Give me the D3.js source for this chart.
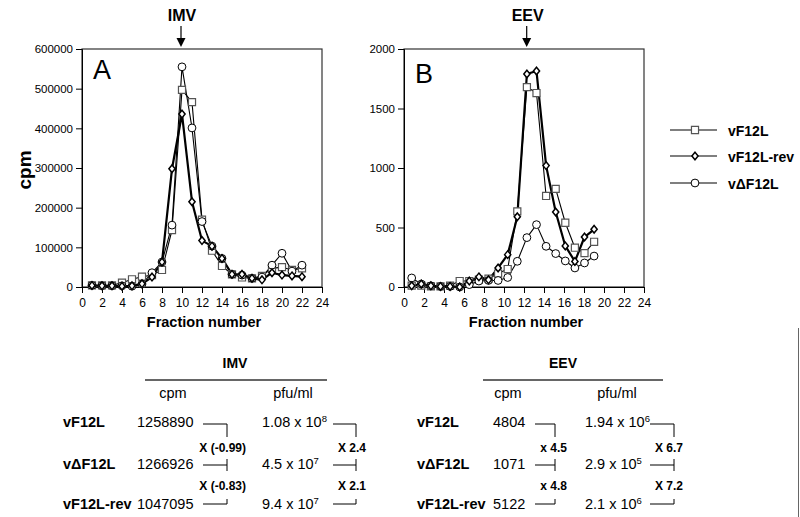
<!DOCTYPE html>
<html>
<head>
<meta charset="utf-8">
<script src="https://cdn.jsdelivr.net/npm/d3@7/dist/d3.min.js"></script>
<style>
body { margin: 0; background: #fff; }
svg { font-family: "Liberation Sans", Arial, Helvetica, sans-serif; }
</style>
</head>
<body>
<div id="chart"></div>
<script>
// ---- gradient data ----
var fractionsA = [1, 2, 3, 4, 5, 6, 7, 8, 9, 10, 11, 12, 13, 14, 15, 16, 17, 18, 19, 20, 21, 22];
var imvF12L  = [4300, 4300, 4300, 10800, 19400, 26000, 30000, 43000, 143700, 497000, 466000, 170000, 91500, 53000, 32000, 24000, 22000, 28000, 47000, 50000, 43000, 47000];
var imvRev   = [4000, 3000, 3000, 2000, 3000, 8000, 25000, 63000, 298000, 436000, 215000, 117000, 103000, 72000, 32000, 32000, 22000, 18000, 36000, 30000, 28000, 26000];
var imvDelta = [4000, 3000, 3000, 3000, 2000, 7500, 36000, 63000, 156000, 555000, 401000, 165000, 103000, 72000, 32000, 30000, 22000, 25000, 55000, 85000, 40000, 55000];

var fractionsB = [0.77, 1.73, 2.69, 3.65, 4.61, 5.57, 6.53, 7.49, 8.45, 9.41, 10.37, 11.33, 12.29, 13.25, 14.21, 15.17, 16.13, 17.09, 18.05, 19.01];
var eevF12L  = [12, 12, 5, 5, 12, 50, 50, 62, 70, 113, 151, 636, 1680, 1630, 765, 825, 540, 330, 285, 380];
var eevRev   = [10, 25, 10, 5, 5, 0, 50, 85, 60, 160, 272, 590, 1790, 1815, 1020, 630, 345, 215, 420, 485];
var eevDelta = [76, 25, 10, 5, 5, 0, 20, 50, 55, 55, 80, 216, 415, 524, 342, 281, 219, 160, 202, 260];

var xTicks = [0, 2, 4, 6, 8, 10, 12, 14, 16, 18, 20, 22, 24];
var yTicksA = [0, 100000, 200000, 300000, 400000, 500000, 600000];
var yTicksB = [0, 500, 1000, 1500, 2000];

var seriesNames = ["vF12L", "vF12L-rev", "v\u0394F12L"];

// ---- table data ----
var tableRows = ["vF12L", "v\u0394F12L", "vF12L-rev"];
var imvCpm = ["1258890", "1266926", "1047095"];
var imvPfu = [["1.08 x 10", "8"], ["4.5 x 10", "7"], ["9.4 x 10", "7"]];
var imvCpmFold = ["X (-0.99)", "X (-0.83)"];
var imvPfuFold = ["X 2.4", "X 2.1"];
var eevCpm = ["4804", "1071", "5122"];
var eevPfu = [["1.94 x 10", "6"], ["2.9 x 10", "5"], ["2.1 x 10", "6"]];
var eevCpmFold = ["x 4.5", "x 4.8"];
var eevPfuFold = ["X 6.7", "X 7.2"];

var width = 800, height = 517;

var svg = d3.select("#chart")
    .append("svg")
    .attr("width", width)
    .attr("height", height);

var symSquare = d3.symbol().type(d3.symbolSquare).size(50);
// small diamond, a bit taller than wide
var diamondPath = "M0,-3.8 L3.1,0 L0,3.8 L-3.1,0 Z";

function drawMarkers(g, pts, kind) {
    if (kind === "circle") {
        g.selectAll(null).data(pts).enter().append("circle")
            .attr("cx", function (d) { return d[0]; })
            .attr("cy", function (d) { return d[1]; })
            .attr("r", 3.9)
            .attr("fill", "#fff")
            .attr("stroke", "#000")
            .attr("stroke-width", 1);
    } else {
        g.selectAll(null).data(pts).enter().append("path")
            .attr("transform", function (d) { return "translate(" + d[0] + "," + d[1] + ")"; })
            .attr("d", kind === "square" ? symSquare : diamondPath)
            .attr("fill", "#fff")
            .attr("stroke", kind === "square" ? "#555" : "#000")
            .attr("stroke-width", kind === "square" ? 1.2 : 1.5);
    }
}

function drawPanel(opt) {
    var x = d3.scaleLinear().domain([0, 24]).range([opt.left, opt.left + 240]);
    var y = d3.scaleLinear().domain([0, opt.yMax]).range([287, 49]);

    var g = svg.append("g");

    // frame
    g.append("rect")
        .attr("x", x(0)).attr("y", y(opt.yMax))
        .attr("width", x(24) - x(0)).attr("height", y(0) - y(opt.yMax))
        .attr("fill", "none").attr("stroke", "#333").attr("stroke-width", 1.2);

    var xAxis = g.append("g")
        .attr("transform", "translate(0," + y(0) + ")")
        .call(d3.axisBottom(x).tickValues(xTicks).tickSize(6).tickPadding(5).tickFormat(d3.format("d")));
    var yAxis = g.append("g")
        .attr("transform", "translate(" + x(0) + ",0)")
        .call(d3.axisLeft(y).tickValues(opt.yTicks).tickSize(6).tickPadding(3).tickFormat(d3.format("d")));
    xAxis.selectAll("text").attr("font-size", 12);
    yAxis.selectAll("text").attr("font-size", 11.5);
    [xAxis, yAxis].forEach(function (a) {
        a.selectAll("text").attr("font-family", "Liberation Sans, Arial, sans-serif").attr("fill", "#000");
        a.selectAll("line").attr("stroke", "#000");
        a.select(".domain").attr("stroke", "#000");
    });

    g.append("text")
        .attr("x", (x(0) + x(24)) / 2 + 2).attr("y", 327)
        .attr("text-anchor", "middle")
        .attr("font-size", 14.5).attr("font-weight", "bold")
        .text("Fraction number");

    g.append("text")
        .attr("x", x(0) + 11).attr("y", opt.letterY)
        .attr("font-size", 27)
        .text(opt.letter);

    // arrow and label above the frame
    var ax = x(opt.arrowAt);
    g.append("text")
        .attr("x", ax + 1).attr("y", 20.5)
        .attr("text-anchor", "middle")
        .attr("font-size", 16).attr("font-weight", "bold")
        .text(opt.title);
    g.append("line")
        .attr("x1", ax).attr("x2", ax).attr("y1", 26).attr("y2", 40)
        .attr("stroke", "#000").attr("stroke-width", 1.2);
    g.append("path")
        .attr("d", "M" + (ax - 4.5) + ",38 L" + (ax + 4.5) + ",38 L" + ax + ",47 Z")
        .attr("fill", "#000");

    var line = d3.line()
        .x(function (d) { return x(d[0]); })
        .y(function (d) { return y(d[1]); });

    var sets = [
        { v: opt.f12l, kind: "square", w: 1.1 },
        { v: opt.delta, kind: "circle", w: 1.1 },
        { v: opt.rev, kind: "diamond", w: 2.2 }
    ];
    sets.forEach(function (s) {
        var pts = opt.fx.map(function (f, i) { return [f, s.v[i]]; });
        g.append("path")
            .attr("d", line(pts))
            .attr("fill", "none")
            .attr("stroke", "#000")
            .attr("stroke-width", s.w)
            .attr("stroke-linejoin", "round");
    });
    sets.forEach(function (s) {
        var pts = opt.fx.map(function (f, i) { return [x(f), y(s.v[i])]; });
        drawMarkers(g.append("g"), pts, s.kind);
    });
}

drawPanel({ left: 82, yMax: 600000, yTicks: yTicksA, fx: fractionsA, f12l: imvF12L, rev: imvRev, delta: imvDelta,
    letter: "A", letterY: 79, title: "IMV", arrowAt: 9.9 });
drawPanel({ left: 404, yMax: 2000, yTicks: yTicksB, fx: fractionsB, f12l: eevF12L, rev: eevRev, delta: eevDelta,
    letter: "B", letterY: 83, title: "EEV", arrowAt: 12.27 });

// y title
svg.append("text")
    .attr("transform", "translate(31,170) rotate(-90)")
    .attr("text-anchor", "middle")
    .attr("font-size", 19).attr("font-weight", "bold")
    .text("cpm");

// legend
var legend = svg.append("g");
var legendKinds = ["square", "diamond", "circle"];
var legendY = [130, 156, 183];
seriesNames.forEach(function (name, i) {
    legend.append("line")
        .attr("x1", 670).attr("x2", 717).attr("y1", legendY[i]).attr("y2", legendY[i])
        .attr("stroke", "#000").attr("stroke-width", 1.2);
    drawMarkers(legend.append("g"), [[695, legendY[i]]], legendKinds[i]);
    legend.append("text")
        .attr("x", 728).attr("y", legendY[i] + 5.5)
        .attr("font-size", 14).attr("font-weight", "bold")
        .text(name);
});

// ---- tables ----
var rowBase = [427, 469, 509];
var rowMid = [424, 465, 504];
var foldBase = [452, 490];
var tableFont = 14.5;

function bracket(g, x0, x1) {
    var p = "M" + x0 + "," + rowMid[0] + " H" + x1 + " V" + (rowMid[0] + 13) +
        " M" + x0 + "," + rowMid[1] + " H" + x1 + " M" + x1 + "," + (rowMid[1] - 6) + " V" + (rowMid[1] + 6) +
        " M" + x0 + "," + rowMid[2] + " H" + x1 + " V" + (rowMid[2] - 5);
    g.append("path").attr("d", p).attr("fill", "none").attr("stroke", "#000").attr("stroke-width", 1);
}

function drawTable(t) {
    var g = svg.append("g");
    g.append("text")
        .attr("x", t.titleX).attr("y", 368)
        .attr("text-anchor", "middle")
        .attr("font-size", 14).attr("font-weight", "bold")
        .text(t.title);
    g.append("line")
        .attr("x1", t.ruleX[0]).attr("x2", t.ruleX[1]).attr("y1", 380).attr("y2", 380)
        .attr("stroke", "#333").attr("stroke-width", 1.5);
    g.append("text").attr("x", t.cpmHeadX).attr("y", 398).attr("text-anchor", "middle")
        .attr("font-size", tableFont).text("cpm");
    g.append("text").attr("x", t.pfuHeadX).attr("y", 398).attr("text-anchor", "middle")
        .attr("font-size", tableFont).text("pfu/ml");

    tableRows.forEach(function (r, i) {
        g.append("text").attr("x", t.labelX).attr("y", rowBase[i])
            .attr("font-size", tableFont).attr("font-weight", "bold").text(r);
        g.append("text").attr("x", t.cpmX).attr("y", rowBase[i])
            .attr("font-size", tableFont).text(t.cpm[i]);
        var pt = g.append("text").attr("x", t.pfuX).attr("y", rowBase[i]).attr("font-size", tableFont);
        pt.append("tspan").text(t.pfu[i][0]);
        pt.append("tspan").attr("dy", -5.5).attr("font-size", 9.5).text(t.pfu[i][1]);
    });

    bracket(g, t.cpmBr[0], t.cpmBr[1]);
    bracket(g, t.pfuBr[0], t.pfuBr[1]);

    [0, 1].forEach(function (i) {
        g.append("text").attr("x", t.cpmFoldX).attr("y", foldBase[i])
            .attr("text-anchor", "end").attr("font-size", 12).attr("font-weight", "bold")
            .text(t.cpmFold[i]);
        g.append("text").attr("x", t.pfuFoldX).attr("y", foldBase[i])
            .attr("text-anchor", "end").attr("font-size", 12).attr("font-weight", "bold")
            .text(t.pfuFold[i]);
    });
}

drawTable({ title: "IMV", titleX: 235, ruleX: [145, 327], cpmHeadX: 173, pfuHeadX: 293,
    labelX: 63, cpmX: 137, pfuX: 262, cpm: imvCpm, pfu: imvPfu,
    cpmBr: [203, 227], pfuBr: [333, 356], cpmFold: imvCpmFold, pfuFold: imvPfuFold,
    cpmFoldX: 246, pfuFoldX: 366 });
drawTable({ title: "EEV", titleX: 563, ruleX: [483, 663], cpmHeadX: 508, pfuHeadX: 617,
    labelX: 417, cpmX: 493, pfuX: 585, cpm: eevCpm, pfu: eevPfu,
    cpmBr: [535, 555], pfuBr: [650, 674], cpmFold: eevCpmFold, pfuFold: eevPfuFold,
    cpmFoldX: 567, pfuFoldX: 683 });

// scan edge on the right of the lower half
svg.append("line")
    .attr("x1", 798.5).attr("x2", 798.5).attr("y1", 328).attr("y2", 517)
    .attr("stroke", "#666").attr("stroke-width", 1);
</script>
</body>
</html>
